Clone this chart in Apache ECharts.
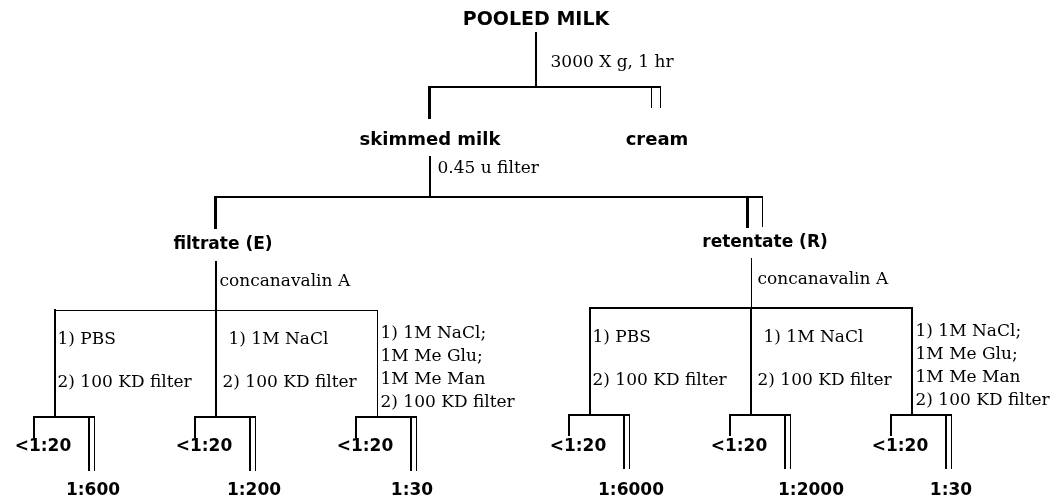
<!DOCTYPE html>
<html>
<head>
<meta charset="utf-8">
<title>Pooled milk fractionation</title>
<script src="https://cdn.jsdelivr.net/npm/echarts@6/dist/echarts.min.js"></script>
<style>
  html, body { margin: 0; padding: 0; background: #fff; }
  #chart { width: 1058px; height: 500px; }
</style>
</head>
<body>
<div id="chart"></div>
<script>
// tree nodes (bold labels)
const nodeNames = ['POOLED MILK', 'skimmed milk', 'cream', 'filtrate (E)', 'retentate (R)']
const nodeX = [536, 430, 657, 223, 765]
const nodeY = [20, 140, 140, 245, 243]

// the two separation steps at the top of the tree
const sepSteps = ['3000 X g, 1 hr', '0.45 u filter']
const sepStemX = [536, 430]
const sepStemTop = [33, 157]
const sepBarY = [87, 197]
const sepKeepX = [429, 215]
const sepKeepEnd = [117, 227]
const sepDoubleX = [[651, 660], [747, 762]]
const sepDoubleEnd = [107, 226]

// concanavalin A step, then three treatments per fraction
const groupStep = 'concanavalin A'
const groupStemX = [216, 751]
const groupStemTop = [262, 258]
const groupBarY = [310, 308]
const armX = [[55, 216, 377], [590, 751, 912]]
const treatments = [
  ['1) PBS', '2) 100 KD filter'],
  ['1) 1M NaCl', '2) 100 KD filter'],
  ['1) 1M NaCl;', '1M Me Glu;', '1M Me Man', '2) 100 KD filter']
]

// titers at the leaves
const lowTiter = '<1:20'
const titers = [['1:600', '1:200', '1:30'], ['1:6000', '1:2000', '1:30']]

// layout constants
const armDrop = 107
const leafLeft = -21
const leafRight = 39
const leafGap = 5
const titerNudge = [[-1, -1, -4], [2, 21, 0]]
const firstLineDx = [2, 12, 3]
const otherLineDx = [2, 6, 3]
const lineDy2 = [30, 73]
const lineDy4 = [24, 47, 70, 93]

// odd widths sit on half pixels so they stay crisp
const segs = []
const seg = (coords, width) => {
  const d = width % 2 === 1 ? 0.5 : 0
  segs.push({ coords: coords.map(p => [p[0] + d, p[1] + d]), lineStyle: { width } })
}

const texts = []
const boldSans = 'DejaVu Sans'
const serif = 'DejaVu Serif'
const centered = (name, x, y, size) => texts.push({
  value: [x, y],
  label: { formatter: name, position: 'inside', fontFamily: boldSans, fontWeight: 'bold', fontSize: size, color: '#000', opacity: 1 }
})
const leftText = (name, x, y) => texts.push({
  value: [x, y],
  label: { formatter: name, position: 'right', distance: 0, fontFamily: serif, fontSize: 17, color: '#000', opacity: 1 }
})

// node labels
nodeNames.forEach((n, i) => centered(n, nodeX[i], nodeY[i], i === 0 ? 19 : (i < 3 ? 18 : 17)))

// separations
sepSteps.forEach((s, i) => {
  const sx = sepStemX[i]
  const by = sepBarY[i]
  const dbl = sepDoubleX[i]
  seg([[sx, sepStemTop[i]], [sx, by]], 2)
  seg([[sepKeepX[i], by], [dbl[1], by]], 2)
  seg([[sepKeepX[i], by], [sepKeepX[i], sepKeepEnd[i]]], 3)
  seg([[dbl[0], by], [dbl[0], sepDoubleEnd[i]]], i === 1 ? 3 : 1)
  seg([[dbl[1], by], [dbl[1], sepDoubleEnd[i]]], 1)
  leftText(s, sx + 14 - 7 * i, (sepStemTop[i] + by) / 2 + 3 - 11 * i)
})

// treatment groups and leaves
groupStemX.forEach((sx, g) => {
  const by = groupBarY[g]
  const arms = armX[g]
  seg([[sx, groupStemTop[g]], [sx, by]], g === 0 ? 2 : 1)
  seg([[arms[0], by], [arms[2], by]], g === 0 ? 1 : 2)
  leftText(groupStep, sx + 3 + 3 * g, (groupStemTop[g] + by) / 2 - 4 + 1 * g)
  arms.forEach((ax, k) => {
    const end = by + armDrop
    seg([[ax, by], [ax, end]], g === 0 && k === 2 ? 1 : 2)
    const lines = treatments[k]
    const dys = lines.length === 2 ? lineDy2 : lineDy4
    lines.forEach((t, j) => leftText(t, ax + (j === 0 ? firstLineDx[k] : otherLineDx[k]), by + dys[j]))
    // leaf bracket
    const lx = ax + leafLeft
    const rx = ax + leafRight
    seg([[lx, end], [rx, end]], 2)
    seg([[lx, end], [lx, end + 20]], 2)
    seg([[rx - leafGap, end], [rx - leafGap, end + 53]], 2)
    seg([[rx, end], [rx, end + 53]], 1)
    centered(lowTiter, lx + 9, 447, 17)
    centered(titers[g][k], rx + titerNudge[g][k], 491, 17)
  })
})

const chart = echarts.init(document.getElementById('chart'))
chart.setOption({
  animation: false,
  backgroundColor: '#fff',
  grid: { left: 0, right: 0, top: 0, bottom: 0 },
  xAxis: { type: 'value', min: 0, max: 1058, show: false },
  yAxis: { type: 'value', min: 0, max: 500, inverse: true, show: false },
  series: [
    {
      type: 'lines',
      coordinateSystem: 'cartesian2d',
      polyline: true,
      silent: true,
      lineStyle: { color: '#000', opacity: 1, cap: 'square' },
      data: segs
    },
    {
      type: 'scatter',
      silent: true,
      symbolSize: 1,
      itemStyle: { color: '#fff', opacity: 1 },
      label: { show: true, color: '#000', opacity: 1 },
      data: texts
    }
  ]
})
window.addEventListener('resize', () => chart.resize())
</script>
</body>
</html>
